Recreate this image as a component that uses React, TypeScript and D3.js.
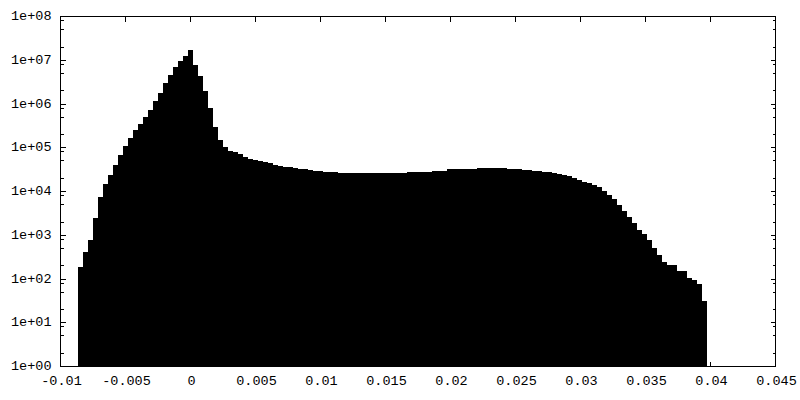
import React from "react";
import * as d3 from "d3";

// Histogram counts per bin (log scale)
const counts: number[] = [
  192, 422, 781, 2520, 7600, 15070, 24400, 40900, 69200, 109000,
  169000, 254000, 348000, 502000, 726000, 1160000, 1770000, 3000000, 4570000, 6950000,
  9530000, 12400000, 17000000, 7730000, 4340000, 2000000, 806000, 302000, 150000, 105000,
  84100, 78500, 70700, 60400, 55200, 52400, 49700, 46400, 44000, 40900,
  38800, 36800, 36300, 34900, 33500, 32100, 31800, 29800, 28900, 27400,
  27400, 27200, 26000, 26000, 26000, 26000, 26000, 26400, 26900, 26900,
  26900, 26900, 26900, 26900, 26900, 26900, 27200, 28300, 28300, 28300,
  28600, 29800, 29800, 30100, 32100, 32100, 32100, 32600, 33200, 33500,
  34900, 34900, 34900, 34900, 34900, 33900, 33500, 33200, 32100, 31800,
  30500, 29800, 28900, 28300, 27900, 26400, 25100, 23800, 22200, 20300,
  18300, 16700, 15400, 14100, 12900, 10400, 8320, 6740, 4920, 3650,
  2660, 1880, 1320, 1070, 781, 521, 355, 246, 210, 210,
  153, 153, 108, 95, 77, 32,
];
const binStart = -0.00867;
const binEnd = 0.0397;

const xTicks: number[] = [-0.01, -0.005, 0, 0.005, 0.01, 0.015, 0.02, 0.025, 0.03, 0.035, 0.04, 0.045];
const xTickLabels: string[] = ["-0.01", "-0.005", "0", "0.005", "0.01", "0.015", "0.02", "0.025", "0.03", "0.035", "0.04", "0.045"];
const yTicks: number[] = [1, 10, 100, 1e3, 1e4, 1e5, 1e6, 1e7, 1e8];
const yTickLabels: string[] = ["1e+00", "1e+01", "1e+02", "1e+03", "1e+04", "1e+05", "1e+06", "1e+07", "1e+08"];
const minorFactors: number[] = [2, 5, 8];

export default function App() {
  const W = 800, H = 400;
  const left = 60.5, right = 775.5, top = 16.5, bottom = 366.5;
  const x = d3.scaleLinear().domain([-0.01, 0.045]).range([left, right]);
  const y = d3.scaleLog().domain([1, 1e8]).range([bottom, top]);
  const n = counts.length;
  const bw = (binEnd - binStart) / n;

  const minorY: number[] = [];
  for (let i = 0; i < yTicks.length - 1; i++) {
    for (const f of minorFactors) minorY.push(yTicks[i] * f);
  }

  const font = "'Liberation Mono', 'DejaVu Sans Mono', monospace";
  const majorLen = 5, minorLen = 3;

  return (
    <svg width={W} height={H} style={{ position: "absolute", left: 0, top: 0, background: "#fff" }}>
      <rect x={0} y={0} width={W} height={H} fill="#fff" />
      <g shapeRendering="crispEdges">
        {counts.map((c, i) => {
          const x0 = x(binStart + i * bw);
          const x1 = x(binStart + (i + 1) * bw);
          return (
            <rect key={i} x={x0} y={y(c)} width={x1 - x0 + 0.3} height={y(1) - y(c)} fill="#000" />
          );
        })}
      </g>
      <g stroke="#000" strokeWidth={1} shapeRendering="crispEdges" fill="none">
        {yTicks.map((v, i) => (
          <g key={"y" + i}>
            <line x1={left} x2={left + majorLen} y1={y(v)} y2={y(v)} />
            <line x1={right} x2={right - majorLen} y1={y(v)} y2={y(v)} />
          </g>
        ))}
        {minorY.map((v, i) => (
          <g key={"ym" + i}>
            <line x1={left} x2={left + minorLen} y1={y(v)} y2={y(v)} />
            <line x1={right} x2={right - minorLen} y1={y(v)} y2={y(v)} />
          </g>
        ))}
        {xTicks.map((v, i) => (
          <g key={"x" + i}>
            <line x1={x(v)} x2={x(v)} y1={bottom} y2={bottom - majorLen} />
            <line x1={x(v)} x2={x(v)} y1={top} y2={top + majorLen} />
          </g>
        ))}
        <rect x={left} y={top} width={right - left} height={bottom - top} />
      </g>
      <g fontFamily={font} fontSize={13.5} fill="#000">
        {yTicks.map((v, i) => (
          <text key={"yl" + i} x={left - 9} y={y(v)} textAnchor="end" dominantBaseline="central">
            {yTickLabels[i]}
          </text>
        ))}
        {xTicks.map((v, i) => (
          <text key={"xl" + i} x={x(v) + 1} y={381} textAnchor="middle" dominantBaseline="central">
            {xTickLabels[i]}
          </text>
        ))}
      </g>
    </svg>
  );
}
